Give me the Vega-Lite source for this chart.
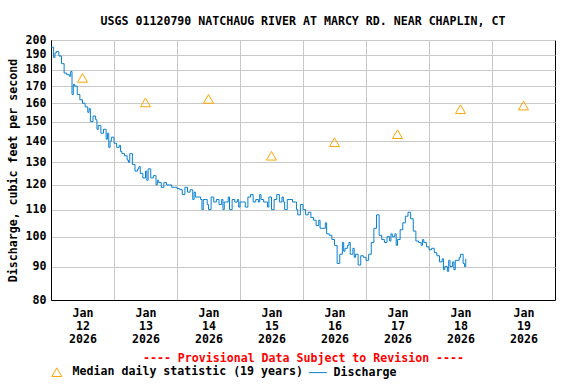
{
  "$schema": "https://vega.github.io/schema/vega-lite/v6.json",
  "width": 504,
  "height": 260,
  "autosize": "none",
  "padding": {"left": 51, "top": 40, "right": 21, "bottom": 84},
  "background": "white",
  "title": {
    "text": "USGS 01120790 NATCHAUG RIVER AT MARCY RD. NEAR CHAPLIN, CT",
    "font": "DejaVu Sans Mono",
    "fontSize": 11.6,
    "fontWeight": "bold",
    "color": "black",
    "anchor": "middle",
    "offset": 6
  },
  "config": {
    "view": {"stroke": "black", "strokeWidth": 1},
    "font": "DejaVu Sans Mono",
    "axis": {
      "labelFont": "DejaVu Sans Mono",
      "labelFontWeight": "bold",
      "labelFontSize": 11.6,
      "labelColor": "black",
      "titleFont": "DejaVu Sans Mono",
      "titleFontWeight": "bold",
      "titleFontSize": 11.6,
      "titleColor": "black",
      "gridColor": "#c8c8c8",
      "gridWidth": 1,
      "domainColor": "black",
      "ticks": false,
      "tickSize": 0
    },
    "legend": {
      "labelFont": "DejaVu Sans Mono",
      "labelFontWeight": "bold",
      "labelFontSize": 11.6,
      "labelColor": "black",
      "labelLimit": 400,
      "padding": 0
    }
  },
  "datasets": {
    "discharge": [
      {"t": "2026-01-12T00:00Z", "q": 195}, {"t": "2026-01-12T01:00Z", "q": 188}, {"t": "2026-01-12T01:30Z", "q": 191}, {"t": "2026-01-12T02:00Z", "q": 192}, {"t": "2026-01-12T03:00Z", "q": 189},
      {"t": "2026-01-12T04:00Z", "q": 184}, {"t": "2026-01-12T05:00Z", "q": 178}, {"t": "2026-01-12T06:00Z", "q": 177}, {"t": "2026-01-12T07:00Z", "q": 176}, {"t": "2026-01-12T07:30Z", "q": 179},
      {"t": "2026-01-12T08:00Z", "q": 165}, {"t": "2026-01-12T08:30Z", "q": 171}, {"t": "2026-01-12T09:00Z", "q": 170}, {"t": "2026-01-12T10:00Z", "q": 165}, {"t": "2026-01-12T11:00Z", "q": 162},
      {"t": "2026-01-12T12:00Z", "q": 160}, {"t": "2026-01-12T13:00Z", "q": 158}, {"t": "2026-01-12T14:00Z", "q": 155}, {"t": "2026-01-12T14:30Z", "q": 157}, {"t": "2026-01-12T15:00Z", "q": 150},
      {"t": "2026-01-12T16:00Z", "q": 153}, {"t": "2026-01-12T17:00Z", "q": 151}, {"t": "2026-01-12T17:30Z", "q": 146}, {"t": "2026-01-12T18:00Z", "q": 148}, {"t": "2026-01-12T19:00Z", "q": 144},
      {"t": "2026-01-12T20:00Z", "q": 146}, {"t": "2026-01-12T21:00Z", "q": 141}, {"t": "2026-01-12T21:30Z", "q": 144}, {"t": "2026-01-12T22:00Z", "q": 137}, {"t": "2026-01-12T22:30Z", "q": 140}, {"t": "2026-01-12T23:00Z", "q": 142},
      {"t": "2026-01-13T00:00Z", "q": 139}, {"t": "2026-01-13T01:00Z", "q": 137}, {"t": "2026-01-13T02:00Z", "q": 138}, {"t": "2026-01-13T02:30Z", "q": 135}, {"t": "2026-01-13T03:00Z", "q": 134},
      {"t": "2026-01-13T04:00Z", "q": 133}, {"t": "2026-01-13T05:00Z", "q": 131}, {"t": "2026-01-13T05:30Z", "q": 130}, {"t": "2026-01-13T06:00Z", "q": 134}, {"t": "2026-01-13T07:00Z", "q": 129},
      {"t": "2026-01-13T08:00Z", "q": 126}, {"t": "2026-01-13T09:00Z", "q": 127}, {"t": "2026-01-13T09:30Z", "q": 128}, {"t": "2026-01-13T10:00Z", "q": 125}, {"t": "2026-01-13T11:00Z", "q": 123},
      {"t": "2026-01-13T12:00Z", "q": 126}, {"t": "2026-01-13T12:30Z", "q": 122}, {"t": "2026-01-13T13:00Z", "q": 127}, {"t": "2026-01-13T14:00Z", "q": 123}, {"t": "2026-01-13T15:00Z", "q": 124},
      {"t": "2026-01-13T16:00Z", "q": 120}, {"t": "2026-01-13T16:30Z", "q": 122}, {"t": "2026-01-13T17:00Z", "q": 121}, {"t": "2026-01-13T18:00Z", "q": 119}, {"t": "2026-01-13T19:00Z", "q": 121},
      {"t": "2026-01-13T20:00Z", "q": 120}, {"t": "2026-01-13T21:00Z", "q": 120}, {"t": "2026-01-13T22:00Z", "q": 119}, {"t": "2026-01-13T23:00Z", "q": 119},
      {"t": "2026-01-14T00:00Z", "q": 118.5}, {"t": "2026-01-14T01:00Z", "q": 118}, {"t": "2026-01-14T02:00Z", "q": 116}, {"t": "2026-01-14T03:00Z", "q": 119},
      {"t": "2026-01-14T04:00Z", "q": 117}, {"t": "2026-01-14T05:00Z", "q": 118}, {"t": "2026-01-14T06:00Z", "q": 114}, {"t": "2026-01-14T06:30Z", "q": 117}, {"t": "2026-01-14T07:00Z", "q": 115},
      {"t": "2026-01-14T08:00Z", "q": 115}, {"t": "2026-01-14T09:00Z", "q": 114}, {"t": "2026-01-14T09:30Z", "q": 110}, {"t": "2026-01-14T10:00Z", "q": 114}, {"t": "2026-01-14T11:00Z", "q": 114}, {"t": "2026-01-14T11:30Z", "q": 112},
      {"t": "2026-01-14T12:00Z", "q": 110}, {"t": "2026-01-14T13:00Z", "q": 115}, {"t": "2026-01-14T14:00Z", "q": 113}, {"t": "2026-01-14T15:00Z", "q": 114},
      {"t": "2026-01-14T16:00Z", "q": 112}, {"t": "2026-01-14T17:00Z", "q": 114}, {"t": "2026-01-14T17:30Z", "q": 110}, {"t": "2026-01-14T18:00Z", "q": 113}, {"t": "2026-01-14T19:00Z", "q": 113}, {"t": "2026-01-14T19:30Z", "q": 115},
      {"t": "2026-01-14T20:00Z", "q": 110}, {"t": "2026-01-14T21:00Z", "q": 114}, {"t": "2026-01-14T22:00Z", "q": 113}, {"t": "2026-01-14T23:00Z", "q": 114}, {"t": "2026-01-14T23:30Z", "q": 111},
      {"t": "2026-01-15T00:00Z", "q": 113}, {"t": "2026-01-15T01:00Z", "q": 113}, {"t": "2026-01-15T02:00Z", "q": 111}, {"t": "2026-01-15T03:00Z", "q": 115},
      {"t": "2026-01-15T04:00Z", "q": 116}, {"t": "2026-01-15T05:00Z", "q": 113}, {"t": "2026-01-15T06:00Z", "q": 114}, {"t": "2026-01-15T07:00Z", "q": 113}, {"t": "2026-01-15T07:30Z", "q": 116},
      {"t": "2026-01-15T08:00Z", "q": 114}, {"t": "2026-01-15T09:00Z", "q": 113}, {"t": "2026-01-15T10:00Z", "q": 113}, {"t": "2026-01-15T10:30Z", "q": 111}, {"t": "2026-01-15T11:00Z", "q": 115},
      {"t": "2026-01-15T12:00Z", "q": 110}, {"t": "2026-01-15T13:00Z", "q": 114}, {"t": "2026-01-15T14:00Z", "q": 116}, {"t": "2026-01-15T15:00Z", "q": 113},
      {"t": "2026-01-15T16:00Z", "q": 115}, {"t": "2026-01-15T16:30Z", "q": 113}, {"t": "2026-01-15T17:00Z", "q": 110}, {"t": "2026-01-15T18:00Z", "q": 114}, {"t": "2026-01-15T19:00Z", "q": 114},
      {"t": "2026-01-15T20:00Z", "q": 113}, {"t": "2026-01-15T21:00Z", "q": 113}, {"t": "2026-01-15T21:30Z", "q": 110}, {"t": "2026-01-15T22:00Z", "q": 108}, {"t": "2026-01-15T23:00Z", "q": 112},
      {"t": "2026-01-16T00:00Z", "q": 110}, {"t": "2026-01-16T01:00Z", "q": 108}, {"t": "2026-01-16T02:00Z", "q": 109}, {"t": "2026-01-16T03:00Z", "q": 107},
      {"t": "2026-01-16T04:00Z", "q": 106}, {"t": "2026-01-16T05:00Z", "q": 104}, {"t": "2026-01-16T06:00Z", "q": 106}, {"t": "2026-01-16T06:30Z", "q": 103}, {"t": "2026-01-16T07:00Z", "q": 103},
      {"t": "2026-01-16T08:00Z", "q": 103}, {"t": "2026-01-16T08:30Z", "q": 105}, {"t": "2026-01-16T09:00Z", "q": 101}, {"t": "2026-01-16T10:00Z", "q": 100.5}, {"t": "2026-01-16T11:00Z", "q": 99},
      {"t": "2026-01-16T12:00Z", "q": 97}, {"t": "2026-01-16T13:00Z", "q": 91}, {"t": "2026-01-16T14:00Z", "q": 94}, {"t": "2026-01-16T15:00Z", "q": 98}, {"t": "2026-01-16T15:30Z", "q": 95},
      {"t": "2026-01-16T16:00Z", "q": 96}, {"t": "2026-01-16T17:00Z", "q": 97}, {"t": "2026-01-16T17:30Z", "q": 98}, {"t": "2026-01-16T18:00Z", "q": 94}, {"t": "2026-01-16T19:00Z", "q": 96}, {"t": "2026-01-16T19:30Z", "q": 93},
      {"t": "2026-01-16T20:00Z", "q": 94}, {"t": "2026-01-16T21:00Z", "q": 90.5}, {"t": "2026-01-16T22:00Z", "q": 93.5}, {"t": "2026-01-16T23:00Z", "q": 93},
      {"t": "2026-01-17T00:00Z", "q": 92}, {"t": "2026-01-17T01:00Z", "q": 94}, {"t": "2026-01-17T02:00Z", "q": 98}, {"t": "2026-01-17T03:00Z", "q": 103},
      {"t": "2026-01-17T04:00Z", "q": 108}, {"t": "2026-01-17T05:00Z", "q": 100.5}, {"t": "2026-01-17T06:00Z", "q": 99}, {"t": "2026-01-17T07:00Z", "q": 98},
      {"t": "2026-01-17T08:00Z", "q": 100}, {"t": "2026-01-17T09:00Z", "q": 98.5}, {"t": "2026-01-17T09:30Z", "q": 101}, {"t": "2026-01-17T10:00Z", "q": 100}, {"t": "2026-01-17T11:00Z", "q": 101}, {"t": "2026-01-17T11:30Z", "q": 97},
      {"t": "2026-01-17T12:00Z", "q": 99}, {"t": "2026-01-17T13:00Z", "q": 102.5}, {"t": "2026-01-17T14:00Z", "q": 105}, {"t": "2026-01-17T15:00Z", "q": 107.5},
      {"t": "2026-01-17T16:00Z", "q": 109}, {"t": "2026-01-17T17:00Z", "q": 106.5}, {"t": "2026-01-17T18:00Z", "q": 102}, {"t": "2026-01-17T19:00Z", "q": 98.5},
      {"t": "2026-01-17T20:00Z", "q": 98}, {"t": "2026-01-17T21:00Z", "q": 97}, {"t": "2026-01-17T21:30Z", "q": 99}, {"t": "2026-01-17T22:00Z", "q": 98}, {"t": "2026-01-17T23:00Z", "q": 96.5},
      {"t": "2026-01-18T00:00Z", "q": 95.5}, {"t": "2026-01-18T01:00Z", "q": 96}, {"t": "2026-01-18T02:00Z", "q": 94.5}, {"t": "2026-01-18T03:00Z", "q": 93.5},
      {"t": "2026-01-18T04:00Z", "q": 91.5}, {"t": "2026-01-18T05:00Z", "q": 92.5}, {"t": "2026-01-18T05:30Z", "q": 89}, {"t": "2026-01-18T06:00Z", "q": 90}, {"t": "2026-01-18T07:00Z", "q": 88.5}, {"t": "2026-01-18T07:30Z", "q": 92},
      {"t": "2026-01-18T08:00Z", "q": 90}, {"t": "2026-01-18T09:00Z", "q": 91.5}, {"t": "2026-01-18T09:30Z", "q": 89}, {"t": "2026-01-18T10:00Z", "q": 92}, {"t": "2026-01-18T11:00Z", "q": 92}, {"t": "2026-01-18T11:30Z", "q": 93},
      {"t": "2026-01-18T12:00Z", "q": 94}, {"t": "2026-01-18T13:00Z", "q": 91}, {"t": "2026-01-18T13:30Z", "q": 90}, {"t": "2026-01-18T14:00Z", "q": 92.5}
    ],
    "median": [
      {"t": "2026-01-12T12:00Z", "q": 175},
      {"t": "2026-01-13T12:00Z", "q": 160.5},
      {"t": "2026-01-14T12:00Z", "q": 162.5},
      {"t": "2026-01-15T12:00Z", "q": 133},
      {"t": "2026-01-16T12:00Z", "q": 139.5},
      {"t": "2026-01-17T12:00Z", "q": 143.5},
      {"t": "2026-01-18T12:00Z", "q": 156.7},
      {"t": "2026-01-19T12:00Z", "q": 158.7}
    ]
  },
  "encoding": {
    "x": {
      "field": "t",
      "type": "temporal",
      "scale": {"type": "utc", "domain": [{"year": 2026, "month": 1, "date": 12, "utc": true}, {"year": 2026, "month": 1, "date": 20, "utc": true}]},
      "axis": {
        "title": "---- Provisional Data Subject to Revision ----",
        "titleColor": "#ff0000",
        "titlePadding": 8,
        "values": [
          {"year": 2026, "month": 1, "date": 12, "hours": 12, "utc": true},
          {"year": 2026, "month": 1, "date": 13, "utc": true},
          {"year": 2026, "month": 1, "date": 13, "hours": 12, "utc": true},
          {"year": 2026, "month": 1, "date": 14, "utc": true},
          {"year": 2026, "month": 1, "date": 14, "hours": 12, "utc": true},
          {"year": 2026, "month": 1, "date": 15, "utc": true},
          {"year": 2026, "month": 1, "date": 15, "hours": 12, "utc": true},
          {"year": 2026, "month": 1, "date": 16, "utc": true},
          {"year": 2026, "month": 1, "date": 16, "hours": 12, "utc": true},
          {"year": 2026, "month": 1, "date": 17, "utc": true},
          {"year": 2026, "month": 1, "date": 17, "hours": 12, "utc": true},
          {"year": 2026, "month": 1, "date": 18, "utc": true},
          {"year": 2026, "month": 1, "date": 18, "hours": 12, "utc": true},
          {"year": 2026, "month": 1, "date": 19, "utc": true},
          {"year": 2026, "month": 1, "date": 19, "hours": 12, "utc": true}
        ],
        "labelExpr": "utchours(datum.value) == 12 ? [utcFormat(datum.value, '%b'), utcFormat(datum.value, '%d'), utcFormat(datum.value, '%Y')] : ''",
        "labelOverlap": false,
        "labelFlush": false,
        "labelPadding": 7,
        "labelLineHeight": 13,
        "labelBaseline": "top",
        "gridOpacity": {"condition": {"test": "utchours(datum.value) == 0", "value": 1}, "value": 0}
      }
    },
    "y": {
      "field": "q",
      "type": "quantitative",
      "scale": {"type": "log", "domain": [80, 200], "nice": false},
      "axis": {
        "title": "Discharge, cubic feet per second",
        "values": [80, 90, 100, 110, 120, 130, 140, 150, 160, 170, 180, 190, 200],
        "format": "d",
        "labelOverlap": false,
        "labelPadding": 5,
        "titlePadding": 7
      }
    }
  },
  "layer": [
    {
      "data": {"name": "discharge"},
      "mark": {"type": "line", "interpolate": "step-after", "strokeWidth": 1, "clip": true},
      "encoding": {
        "color": {
          "datum": "Discharge",
          "type": "nominal",
          "scale": {"domain": ["Median daily statistic (19 years)", "Discharge"], "range": ["#ffa500", "#0a80d0"]},
          "legend": {
            "orient": "none",
            "legendX": 0,
            "legendY": 326,
            "direction": "horizontal",
            "title": null,
            "symbolSize": 100,
            "symbolStrokeWidth": 1,
            "labelOffset": 10,
            "columnPadding": 3
          }
        }
      }
    },
    {
      "data": {"name": "median"},
      "mark": {"type": "point", "filled": false, "size": 100, "strokeWidth": 1, "opacity": 1},
      "encoding": {
        "color": {"datum": "Median daily statistic (19 years)", "type": "nominal"},
        "shape": {
          "datum": "Median daily statistic (19 years)",
          "type": "nominal",
          "scale": {"domain": ["Median daily statistic (19 years)", "Discharge"], "range": ["triangle-up", "M-1.8,0H1.8"]}
        }
      }
    }
  ]
}
